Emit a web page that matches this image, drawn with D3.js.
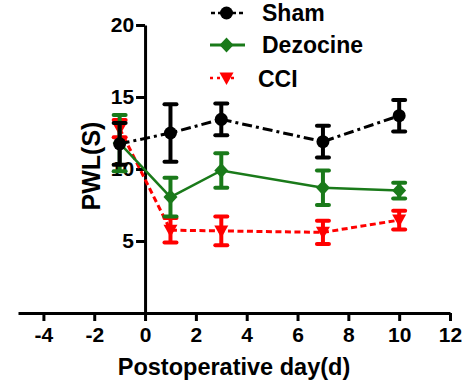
<!DOCTYPE html>
<html>
<head>
<meta charset="utf-8">
<script src="https://cdn.jsdelivr.net/npm/d3@7"></script>
<style>
  html, body { margin: 0; padding: 0; background: #fff; }
  svg { display: block; }
  text { font-family: "Liberation Sans", Arial, sans-serif; font-weight: bold; fill: #000; }
</style>
</head>
<body>
<svg id="chart" width="465" height="383"></svg>
<script>
// ---- data ----
const days = [-1, 1, 3, 7, 10];
const shamMean = [11.75, 12.5, 13.45, 11.9, 13.7];
const shamErr  = [1.45, 2.0, 1.1, 1.1, 1.1];
const dezMean  = [11.8, 8.05, 9.9, 8.7, 8.5];
const dezErr   = [1.95, 1.35, 1.2, 1.2, 0.55];
const cciMean  = [12.8, 5.75, 5.7, 5.6, 6.45];
const cciErr   = [0.6, 0.85, 1.0, 0.8, 0.65];
const xTicks = [-4, -2, 0, 2, 4, 6, 8, 10, 12];
const yTicks = [5, 10, 15, 20];
const seriesNames = ["Sham", "Dezocine", "CCI"];
const xTitle = "Postoperative day(d)";
const yTitle = "PWL(S)";

const svg = d3.select("#chart");
const x = d3.scaleLinear().domain([-5, 12]).range([18, 450]);
const y = d3.scaleLinear().domain([0, 20]).range([313, 25]);

// axes
const xAxis = svg.append("g").attr("transform", `translate(0,${y(0)})`)
  .call(d3.axisBottom(x).tickValues(xTicks).tickSize(8).tickSizeOuter(0).tickPadding(6)
    .tickFormat(d3.format("d")));
const yAxis = svg.append("g").attr("transform", `translate(${x(0)},0)`)
  .call(d3.axisLeft(y).tickValues(yTicks).tickSize(9).tickSizeOuter(0).tickPadding(2)
    .tickFormat(d3.format("d")));
[xAxis, yAxis].forEach(g => {
  g.select(".domain").attr("stroke", "#000").attr("stroke-width", 3);
  g.selectAll(".tick line").attr("stroke", "#000").attr("stroke-width", 3);
  g.selectAll(".tick text").style("font-size", "21px").attr("fill", "#000");
});
xAxis.selectAll(".tick text").text(d => d < 0 ? "-" + Math.abs(d) : d);

// titles
svg.append("text").attr("x", 234).attr("y", 375).attr("text-anchor", "middle")
  .style("font-size", "23.5px").text(xTitle);
svg.append("text").attr("transform", "translate(100,166) rotate(-90)")
  .attr("text-anchor", "middle").style("font-size", "25px").text(yTitle);

const series = [
  { name: seriesNames[2], mean: cciMean, err: cciErr, color: "#ff0000", dash: "6,3.5", width: 3, sym: "tri" },
  { name: seriesNames[1], mean: dezMean, err: dezErr, color: "#1a7a1a", dash: null, width: 2.5, sym: "dia" },
  { name: seriesNames[0], mean: shamMean, err: shamErr, color: "#000000", dash: "10,4,3,4", width: 3, sym: "circ" },
];

const symGen = {
  circ: d3.symbol().type(d3.symbolCircle).size(Math.PI * 6.5 * 6.5),
  dia: () => "M0,-7.5L7,0L0,7.5L-7,0Z",
  tri: () => "M-7,-5.5L7,-5.5L0,7Z",
};
function symPath(s) { return s === "circ" ? symGen.circ() : symGen[s](); }

const line = d3.line().x(d => x(d[0])).y(d => y(d[1]));

series.forEach(s => {
  const g = svg.append("g");
  const pts = days.map((d, i) => [d, s.mean[i], s.err[i]]);
  g.append("path").attr("d", line(pts)).attr("fill", "none")
    .attr("stroke", s.color).attr("stroke-width", s.width)
    .attr("stroke-dasharray", s.dash);
  // error bars
  pts.forEach(p => {
    const cx = x(p[0]), top = y(p[1] + p[2]), bot = y(p[1] - p[2]);
    g.append("line").attr("x1", cx).attr("x2", cx).attr("y1", top).attr("y2", bot)
      .attr("stroke", s.color).attr("stroke-width", 4);
    [top, bot].forEach(yy => g.append("line").attr("x1", cx - 6).attr("x2", cx + 6)
      .attr("y1", yy).attr("y2", yy).attr("stroke", s.color).attr("stroke-width", 4)
      .attr("stroke-linecap", "round"));
    g.append("path").attr("d", symPath(s.sym)).attr("transform", `translate(${cx},${y(p[1])})`)
      .attr("fill", s.color);
  });
});

// legend
const legend = [
  { name: seriesNames[0], color: "#000000", dash: "4,3", width: 2.5, sym: "circ", ly: 13, x1: 211, x2: 244, tx: 262, ty: 20.5 },
  { name: seriesNames[1], color: "#1a7a1a", dash: null, width: 3, sym: "dia", ly: 45, x1: 210, x2: 245, tx: 262, ty: 53 },
  { name: seriesNames[2], color: "#ff0000", dash: "3,4", width: 2.5, sym: "tri", ly: 78, x1: 210, x2: 238, tx: 258, ty: 86.5 },
];
legend.forEach(l => {
  svg.append("line").attr("x1", l.x1).attr("x2", l.x2).attr("y1", l.ly).attr("y2", l.ly)
    .attr("stroke", l.color).attr("stroke-width", l.width).attr("stroke-dasharray", l.dash);
  svg.append("path").attr("d", symPath(l.sym)).attr("transform", `translate(226.5,${l.ly})`)
    .attr("fill", l.color);
  svg.append("text").attr("x", l.tx).attr("y", l.ty).style("font-size", "23px").text(l.name);
});
</script>
</body>
</html>
